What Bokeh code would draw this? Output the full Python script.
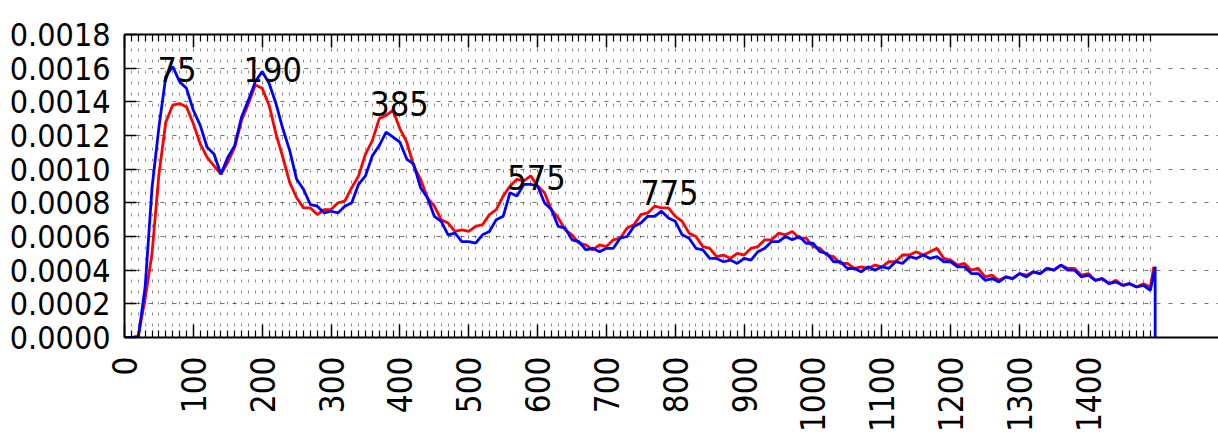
import math
from bokeh.plotting import figure
from bokeh.models import FixedTicker, LinearAxis, Range1d, NumeralTickFormatter, ColumnDataSource, Grid
from bokeh.core.properties import value
from bokeh.embed import file_html
from bokeh.resources import INLINE

# ---------------- data ----------------
position = list(range(0, 1500, 10))

red_density = [
    0, 0, 0.00001, 0.00023, 0.00050, 0.00097, 0.00128, 0.00138, 0.00139, 0.00137,
    0.00127, 0.00115, 0.00107, 0.00102, 0.00097, 0.00104, 0.00113, 0.00129, 0.00139, 0.00150,
    0.00148, 0.00138, 0.00121, 0.00107, 0.00092, 0.00083, 0.00077, 0.00077, 0.00073, 0.00076,
    0.00076, 0.00080, 0.00081, 0.00089, 0.00096, 0.00109, 0.00117, 0.00130, 0.00132, 0.00135,
    0.00124, 0.00116, 0.00102, 0.00094, 0.00083, 0.00078, 0.00070, 0.00068, 0.00063, 0.00064,
    0.00063, 0.00066, 0.00067, 0.00073, 0.00076, 0.00084, 0.00090, 0.00094, 0.00093, 0.00096,
    0.00090, 0.00086, 0.00076, 0.00071, 0.00064, 0.00061, 0.00056, 0.00055, 0.00052, 0.00055,
    0.00054, 0.00058, 0.00059, 0.00065, 0.00067, 0.00073, 0.00074, 0.00078, 0.00077, 0.00077,
    0.00072, 0.00069, 0.00062, 0.00060, 0.00054, 0.00053, 0.00048, 0.00049, 0.00047, 0.00050,
    0.00049, 0.00053, 0.00054, 0.00058, 0.00058, 0.00062, 0.00061, 0.00063, 0.00059, 0.00059,
    0.00054, 0.00053, 0.00049, 0.00048, 0.00044, 0.00044, 0.00041, 0.00042, 0.00041, 0.00043,
    0.00042, 0.00045, 0.00045, 0.00049, 0.00049, 0.00051, 0.00049, 0.00051, 0.00053, 0.00047,
    0.00046, 0.00043, 0.00044, 0.00040, 0.00041, 0.00036, 0.00037, 0.00034, 0.00036, 0.00035,
    0.00038, 0.00037, 0.00039, 0.00038, 0.00041, 0.00040, 0.00043, 0.00041, 0.00041, 0.00037,
    0.00038, 0.00034, 0.00035, 0.00032, 0.00034, 0.00031, 0.00032, 0.00030, 0.00032, 0.00030,
]
red_tail_x = [1495]
red_tail_y = [0.00042]

blue_density = [
    0, 0, 0, 0.00030, 0.00089, 0.00125, 0.00155, 0.00161, 0.00152, 0.00148,
    0.00135, 0.00126, 0.00113, 0.00109, 0.00097, 0.00107, 0.00114, 0.00131, 0.00141, 0.00152,
    0.00158, 0.00151, 0.00139, 0.00124, 0.00111, 0.00094, 0.00088, 0.00079, 0.00078, 0.00074,
    0.00075, 0.00074, 0.00078, 0.00080, 0.00091, 0.00096, 0.00108, 0.00114, 0.00122, 0.00119,
    0.00116, 0.00106, 0.00103, 0.00089, 0.00083, 0.00072, 0.00069, 0.00061, 0.00062, 0.00057,
    0.00057, 0.00056, 0.00061, 0.00063, 0.00070, 0.00072, 0.00086, 0.00084, 0.00091, 0.00091,
    0.00090, 0.00080, 0.00076, 0.00066, 0.00065, 0.00058, 0.00057, 0.00052, 0.00053, 0.00051,
    0.00053, 0.00053, 0.00059, 0.00060, 0.00066, 0.00068, 0.00072, 0.00072, 0.00075, 0.00071,
    0.00069, 0.00061, 0.00059, 0.00053, 0.00052, 0.00047, 0.00047, 0.00045, 0.00046, 0.00044,
    0.00047, 0.00046, 0.00051, 0.00053, 0.00057, 0.00057, 0.00060, 0.00058, 0.00060, 0.00056,
    0.00056, 0.00051, 0.00050, 0.00045, 0.00045, 0.00041, 0.00041, 0.00039, 0.00042, 0.00040,
    0.00042, 0.00041, 0.00045, 0.00044, 0.00048, 0.00047, 0.00049, 0.00047, 0.00048, 0.00045,
    0.00045, 0.00042, 0.00042, 0.00038, 0.00038, 0.00034, 0.00035, 0.00033, 0.00036, 0.00035,
    0.00038, 0.00036, 0.00039, 0.00038, 0.00041, 0.00040, 0.00043, 0.00040, 0.00040, 0.00036,
    0.00037, 0.00034, 0.00035, 0.00032, 0.00033, 0.00031, 0.00032, 0.00030, 0.00031, 0.00028,
]
blue_tail_x = [1497, 1497]
blue_tail_y = [0.00042, 0.0]

peak_labels = ["75", "190", "385", "575", "775"]
peak_label_x = [48, 173, 357, 556, 749]
peak_label_y = [0.00159, 0.00159, 0.00139, 0.00095, 0.00086]

x_major_ticks = list(range(0, 1500, 100))
x_minor_ticks = [v for v in range(0, 1500, 10) if v % 100 != 0]
y_major_ticks = [0.0, 0.0002, 0.0004, 0.0006, 0.0008, 0.0010, 0.0012, 0.0014, 0.0016, 0.0018]

FONT = "DejaVu Sans Condensed"

# ---------------- figure ----------------
p = figure(width=1218, height=439, output_backend="svg", toolbar_location=None,
           x_range=Range1d(0, 1589), y_range=Range1d(0, 0.0018),
           min_border_left=124, min_border_right=0, min_border_top=34, min_border_bottom=102,
           x_axis_type=None, y_axis_type=None)
p.outline_line_color = None
p.background_fill_color = "white"
p.border_fill_color = "white"

xt = FixedTicker(ticks=x_major_ticks, minor_ticks=x_minor_ticks)
yt = FixedTicker(ticks=y_major_ticks, minor_ticks=[])


def style_x(ax, labels=True):
    ax.ticker = xt
    ax.axis_line_color = "black"
    ax.axis_line_width = 2
    ax.major_tick_in = 13
    ax.major_tick_out = 0
    ax.minor_tick_in = 7
    ax.minor_tick_out = 0
    ax.major_tick_line_color = "black"
    ax.minor_tick_line_color = "black"
    ax.major_tick_line_width = 1.5
    ax.minor_tick_line_width = 1.2
    if labels:
        ax.major_label_orientation = math.pi / 2
        ax.major_label_text_font = FONT
        ax.major_label_text_font_size = "33px"
        ax.major_label_text_color = "black"
        ax.major_label_standoff = 19
    else:
        ax.major_label_text_font_size = "1px"
        ax.major_label_text_color = None
        ax.major_label_standoff = 0


xb = LinearAxis()
style_x(xb)
p.add_layout(xb, "below")
xa = LinearAxis()
style_x(xa, labels=False)
p.add_layout(xa, "above")

yl = LinearAxis(ticker=yt, formatter=NumeralTickFormatter(format="0.0000"))
yl.axis_line_color = "black"
yl.axis_line_width = 2
yl.major_tick_in = 12
yl.major_tick_out = 0
yl.major_tick_line_color = "black"
yl.major_tick_line_width = 1.5
yl.minor_tick_line_color = None
yl.major_label_text_font = FONT
yl.major_label_text_font_size = "32px"
yl.major_label_text_color = "black"
yl.major_label_standoff = 14
p.add_layout(yl, "left")

# grids
gx = Grid(dimension=0, ticker=xt)
gx.grid_line_color = "black"
gx.grid_line_alpha = 0.55
gx.grid_line_dash = "3 8"
gx.grid_line_width = 1
gx.minor_grid_line_color = "black"
gx.minor_grid_line_alpha = 0.45
gx.minor_grid_line_dash = "3 8"
gx.minor_grid_line_width = 1
p.add_layout(gx)

gy = Grid(dimension=1, ticker=yt)
gy.grid_line_color = "black"
gy.grid_line_alpha = 0.55
gy.grid_line_dash = "4 8"
gy.grid_line_width = 1
p.add_layout(gy)

# curves
p.line(position + red_tail_x, red_density + red_tail_y, line_color="#ff0000", line_width=2.8)
p.line(position + blue_tail_x, blue_density + blue_tail_y, line_color="#0000ff", line_width=2.8)

src = ColumnDataSource(dict(x=peak_label_x, y=peak_label_y, t=peak_labels))
p.text(x="x", y="y", text="t", source=src, text_font=value(FONT),
       text_font_size="34px", text_color="black", text_align="left", text_baseline="alphabetic")

open("out.html", "w").write(file_html(p, INLINE))
